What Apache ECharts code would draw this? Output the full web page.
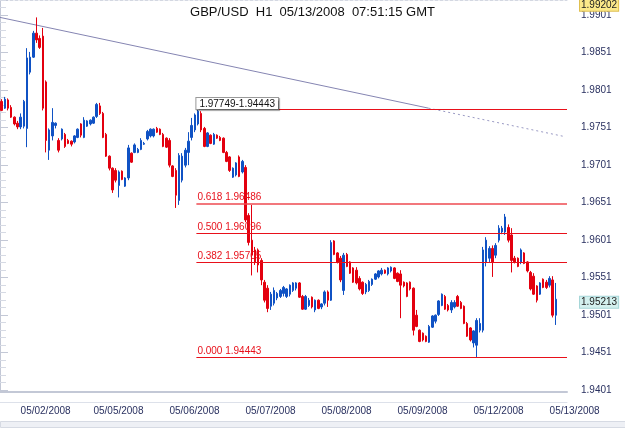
<!DOCTYPE html>
<html>
<head>
<meta charset="utf-8">
<title>GBP/USD H1</title>
<script src="https://cdn.jsdelivr.net/npm/echarts@6/dist/echarts.min.js"></script>
<style>
  html, body { margin: 0; padding: 0; background: #fff; }
  #main { width: 625px; height: 428px; }
</style>
</head>
<body>
<div id="main"></div>
<script>
var titleText = 'GBP/USD  H1  05/13/2008  07:51:15 GMT';

// trading days on the chart, first hour shown and number of hourly slots
var days = ['05/01/2008', '05/02/2008', '05/05/2008', '05/06/2008', '05/07/2008',
            '05/08/2008', '05/09/2008', '05/12/2008', '05/13/2008'];
var firstHour = [18, 0, 0, 0, 0, 0, 0, 0, 0];
var hourSlots = [6, 23, 24, 24, 24, 24, 24, 24, 6];

// hourly bars [open, close, low, high]
var bars = [
  [1.9785, 1.9773, 1.9772, 1.9788], [1.9776, 1.9788, 1.9775, 1.9791], [1.9787, 1.9776, 1.9773, 1.9789],
  [1.9777, 1.9764, 1.9763, 1.9780], [1.9764, 1.9755, 1.9753, 1.9765], [1.9756, 1.9751, 1.9748, 1.9759],
  [1.9751, 1.9764, 1.9748, 1.9769], [1.9752, 1.9785, 1.9749, 1.9787], [1.9749, 1.9843, 1.9724, 1.9856],
  [1.9824, 1.9844, 1.9821, 1.9851], [1.9844, 1.9876, 1.9843, 1.9879], [1.9876, 1.9867, 1.9863, 1.9897],
  [1.9869, 1.9857, 1.9855, 1.9873], [1.9872, 1.9776, 1.9773, 1.9883], [1.9811, 1.9733, 1.9717, 1.9813],
  [1.9720, 1.9747, 1.9707, 1.9749], [1.9739, 1.9757, 1.9733, 1.9776], [1.9753, 1.9756, 1.9749, 1.9757],
  [1.9733, 1.9720, 1.9717, 1.9736], [1.9735, 1.9748, 1.9733, 1.9749], [1.9741, 1.9725, 1.9723, 1.9743],
  [1.9733, 1.9729, 1.9728, 1.9735], [1.9732, 1.9728, 1.9725, 1.9733], [1.9731, 1.9739, 1.9729, 1.9740],
  [1.9737, 1.9748, 1.9736, 1.9749], [1.9755, 1.9740, 1.9737, 1.9756], [1.9737, 1.9760, 1.9736, 1.9764],
  [1.9752, 1.9759, 1.9751, 1.9760], [1.9755, 1.9760, 1.9753, 1.9761], [1.9756, 1.9764, 1.9755, 1.9765],
  [1.9765, 1.9781, 1.9763, 1.9783], [1.9779, 1.9769, 1.9767, 1.9783],
  // 05/05
  [1.9769, 1.9737, 1.9736, 1.9771], [1.9741, 1.9712, 1.9711, 1.9743], [1.9712, 1.9696, 1.9693, 1.9713],
  [1.9696, 1.9667, 1.9663, 1.9697], [1.9693, 1.9680, 1.9677, 1.9696], [1.9673, 1.9691, 1.9657, 1.9693],
  [1.9692, 1.9681, 1.9680, 1.9693], [1.9672, 1.9683, 1.9671, 1.9684], [1.9683, 1.9723, 1.9680, 1.9727],
  [1.9716, 1.9704, 1.9703, 1.9717], [1.9717, 1.9727, 1.9716, 1.9729], [1.9717, 1.9721, 1.9716, 1.9723],
  [1.9721, 1.9733, 1.9720, 1.9736], [1.9728, 1.9729, 1.9727, 1.9731], [1.9735, 1.9745, 1.9733, 1.9747],
  [1.9739, 1.9748, 1.9737, 1.9749], [1.9739, 1.9748, 1.9737, 1.9749], [1.9749, 1.9744, 1.9743, 1.9751],
  [1.9748, 1.9741, 1.9740, 1.9749], [1.9741, 1.9725, 1.9724, 1.9743], [1.9736, 1.9724, 1.9723, 1.9737],
  [1.9733, 1.9700, 1.9697, 1.9736], [1.9699, 1.9685, 1.9684, 1.9700], [1.9693, 1.9660, 1.9643, 1.9696],
  [1.9653, 1.9713, 1.9647, 1.9716], [1.9680, 1.9712, 1.9677, 1.9716], [1.9700, 1.9720, 1.9697, 1.9723],
  [1.9717, 1.9732, 1.9700, 1.9744], [1.9737, 1.9753, 1.9733, 1.9763], [1.9747, 1.9767, 1.9744, 1.9769],
  [1.9755, 1.9772, 1.9753, 1.97749],
  // 05/06
  [1.9769, 1.9747, 1.9744, 1.9772], [1.9749, 1.9725, 1.9724, 1.9751], [1.9725, 1.9743, 1.9724, 1.9744],
  [1.9740, 1.9729, 1.9728, 1.9741], [1.9728, 1.9741, 1.9727, 1.9743], [1.9740, 1.9736, 1.9735, 1.9741],
  [1.9737, 1.9733, 1.9732, 1.9739], [1.9736, 1.9717, 1.9716, 1.9737], [1.9717, 1.9705, 1.9704, 1.9719],
  [1.9711, 1.9693, 1.9691, 1.9712], [1.9684, 1.9696, 1.9683, 1.9697], [1.9687, 1.9703, 1.9685, 1.9704],
  [1.9711, 1.9685, 1.9684, 1.9713], [1.9691, 1.9705, 1.9689, 1.9707],
  // 05/07
  [1.9697, 1.9627, 1.9624, 1.9700], [1.9633, 1.9597, 1.9593, 1.9636], [1.9600, 1.9580, 1.9553, 1.9647],
  [1.9587, 1.9571, 1.9567, 1.9591], [1.9587, 1.9567, 1.9557, 1.9589], [1.9573, 1.9547, 1.9540, 1.9576],
  [1.9544, 1.9520, 1.9517, 1.9547], [1.9536, 1.9509, 1.9504, 1.9540], [1.9512, 1.9528, 1.9507, 1.9531],
  [1.9516, 1.9533, 1.9513, 1.9537], [1.9523, 1.9529, 1.9520, 1.9531], [1.9525, 1.9533, 1.9523, 1.9535],
  [1.9529, 1.9537, 1.9525, 1.9539], [1.9525, 1.9535, 1.9523, 1.9536], [1.9528, 1.9540, 1.9525, 1.9541],
  [1.9533, 1.9543, 1.9531, 1.9544], [1.9536, 1.9543, 1.9533, 1.9544], [1.9543, 1.9524, 1.9523, 1.9544],
  [1.9525, 1.9508, 1.9507, 1.9527], [1.9508, 1.9525, 1.9507, 1.9527], [1.9513, 1.9520, 1.9511, 1.9523],
  [1.9524, 1.9511, 1.9509, 1.9525], [1.9507, 1.9520, 1.9504, 1.9521], [1.9520, 1.9509, 1.9508, 1.9521],
  // 05/08
  [1.9511, 1.9515, 1.9508, 1.9516], [1.9516, 1.9531, 1.9513, 1.9533], [1.9531, 1.9520, 1.9511, 1.9533],
  [1.9520, 1.9597, 1.9519, 1.9600], [1.9599, 1.9581, 1.9580, 1.9600], [1.9583, 1.9571, 1.9569, 1.9584],
  [1.9576, 1.9547, 1.9544, 1.9579], [1.9533, 1.9580, 1.9527, 1.9583], [1.9581, 1.9565, 1.9564, 1.9583],
  [1.9571, 1.9556, 1.9555, 1.9572], [1.9563, 1.9544, 1.9543, 1.9564], [1.9560, 1.9543, 1.9541, 1.9564],
  [1.9549, 1.9535, 1.9533, 1.9552], [1.9544, 1.9529, 1.9527, 1.9545], [1.9531, 1.9541, 1.9528, 1.9543],
  [1.9533, 1.9545, 1.9531, 1.9547], [1.9541, 1.9548, 1.9539, 1.9549], [1.9548, 1.9555, 1.9547, 1.9556],
  [1.9551, 1.9559, 1.9549, 1.9560], [1.9555, 1.9560, 1.9553, 1.9563], [1.9560, 1.9556, 1.9555, 1.9561],
  [1.9555, 1.9563, 1.9553, 1.9564], [1.9559, 1.9564, 1.9557, 1.9565], [1.9563, 1.9549, 1.9548, 1.9564],
  // 05/09
  [1.9556, 1.9545, 1.9544, 1.9557], [1.9555, 1.9540, 1.9496, 1.9560], [1.9544, 1.9539, 1.9537, 1.9545],
  [1.9543, 1.9525, 1.9524, 1.9544], [1.9544, 1.9535, 1.9533, 1.9545], [1.9536, 1.9480, 1.9473, 1.9537],
  [1.9500, 1.9485, 1.9484, 1.9507], [1.9480, 1.9465, 1.9464, 1.9481], [1.9476, 1.9467, 1.9465, 1.9477],
  [1.9472, 1.9465, 1.9464, 1.9473], [1.9464, 1.9485, 1.9463, 1.9487], [1.9484, 1.9499, 1.9483, 1.9500],
  [1.9492, 1.9500, 1.9489, 1.9501], [1.9501, 1.9519, 1.9499, 1.9520], [1.9513, 1.9528, 1.9512, 1.9529],
  [1.9525, 1.9508, 1.9507, 1.9527], [1.9513, 1.9507, 1.9505, 1.9515], [1.9507, 1.9517, 1.9503, 1.9520],
  [1.9511, 1.9517, 1.9509, 1.9520], [1.9525, 1.9512, 1.9511, 1.9527], [1.9517, 1.9509, 1.9508, 1.9519],
  [1.9512, 1.9489, 1.9488, 1.9513], [1.9489, 1.9472, 1.9471, 1.9491], [1.9483, 1.9467, 1.9465, 1.9484],
  // 05/12
  [1.9463, 1.9479, 1.9457, 1.9480], [1.9460, 1.9493, 1.94443, 1.9496], [1.9480, 1.9489, 1.9477, 1.9496],
  [1.9480, 1.9587, 1.9477, 1.9591], [1.9571, 1.9600, 1.9565, 1.9604], [1.9576, 1.9589, 1.9571, 1.9592],
  [1.9589, 1.9571, 1.9551, 1.9593], [1.9580, 1.9593, 1.9576, 1.9596], [1.9600, 1.9616, 1.9597, 1.9620],
  [1.9611, 1.9616, 1.9608, 1.9619], [1.9611, 1.9631, 1.9607, 1.9635], [1.9617, 1.9600, 1.9597, 1.9621],
  [1.9607, 1.9573, 1.9557, 1.9616], [1.9576, 1.9571, 1.9569, 1.9579], [1.9576, 1.9565, 1.9564, 1.9577],
  [1.9571, 1.9587, 1.9568, 1.9589], [1.9583, 1.9569, 1.9568, 1.9584], [1.9571, 1.9559, 1.9557, 1.9572],
  [1.9557, 1.9535, 1.9533, 1.9559], [1.9552, 1.9528, 1.9527, 1.9556], [1.9539, 1.9520, 1.9517, 1.9540],
  [1.9528, 1.9543, 1.9527, 1.9544], [1.9548, 1.9537, 1.9536, 1.9549], [1.9544, 1.9537, 1.9535, 1.9547],
  // 05/13
  [1.9540, 1.9549, 1.9537, 1.9552], [1.9547, 1.9500, 1.9497, 1.9552], [1.9500, 1.95213, 1.9487, 1.9543]
];

// price axis
var yMin = 1.93976;
var yMax = 1.99202;
var yTicks = [1.940, 1.945, 1.950, 1.955, 1.960, 1.965, 1.970, 1.975, 1.980, 1.985, 1.990];
var yTickLabels = ['1.9401', '1.9451', '1.9501', '1.9551', '1.9601', '1.9651',
                   '1.9701', '1.9751', '1.9801', '1.9851', '1.9901'];
var lastPrice = 1.95213;

// trend line (x in hourly slots)
var trendX = [0, 135.3];
var trendY = [1.9897, 1.9776];
var trendExtX = [135.3, 178.4];
var trendExtY = [1.9776, 1.9738];

// fibonacci retracement 1.97749 -> 1.94443
var fibFrom = 62;
var fibTo = 179;
var fibValues = [1.97749, 1.96486, 1.96096, 1.95705, 1.94443];
var fibLabels = ['1.97749-1.94443', '0.618 1.96486', '0.500 1.96096', '0.382 1.95705', '0.000 1.94443'];

var categories = [];
days.forEach(function (d, k) {
  for (var h = 0; h < hourSlots[k]; h++) {
    var hh = firstHour[k] + h;
    categories.push(d + ' ' + (hh < 10 ? '0' : '') + hh);
  }
});
function hourOf(v) { return parseInt(v.slice(11), 10); }

var font = 'Liberation Sans, Arial, sans-serif';
var axisGray = '#c3c8d6';
var axisText = '#2a3160';
var fibRed = '#e8101a';

var chartDom = document.getElementById('main');
var myChart = echarts.init(chartDom);

var fibLines = fibValues.map(function (v, k) {
  var label = k === 0 ? {
    show: true, position: 'insideStartTop', distance: 0,
    formatter: fibLabels[k], color: '#111', fontSize: 10, fontFamily: font,
    backgroundColor: '#fff', borderColor: '#9a9a9a', borderWidth: 1, padding: [1, 3, 0, 3],
    shadowColor: 'rgba(0,0,0,0.35)', shadowOffsetX: 1, shadowOffsetY: 1, shadowBlur: 1
  } : {
    show: true, position: 'insideStartTop', distance: 1,
    formatter: fibLabels[k], color: fibRed, fontSize: 10, fontFamily: font
  };
  return [
    {
      coord: [fibFrom, v],
      label: label,
      lineStyle: { color: k === 1 ? '#ee4a50' : fibRed, width: k === 1 ? 1.6 : 1, type: 'solid' }
    },
    { coord: [fibTo, v] }
  ];
});

var option = {
  animation: false,
  backgroundColor: '#fff',
  title: {
    text: titleText,
    left: 'center',
    top: 1,
    textStyle: { fontSize: 13, fontWeight: 'normal', color: '#111', fontFamily: font }
  },
  grid: { left: -2, right: 58, top: 0, bottom: 36 },
  xAxis: [
    {
      type: 'category',
      data: categories,
      boundaryGap: true,
      axisLine: { lineStyle: { color: axisGray, width: 2 } },
      axisTick: {
        length: 10,
        interval: function (i, v) { return hourOf(v) === 0; },
        lineStyle: { color: axisGray }
      },
      axisLabel: {
        interval: function (i, v) { return hourOf(v) === 0; },
        formatter: function (v) { return v.slice(0, 10); },
        align: 'left',
        margin: 14,
        color: axisText,
        fontSize: 10,
        fontFamily: font
      },
      splitLine: { show: false }
    },
    {
      type: 'value',
      min: 0,
      max: 179,
      show: false
    },
    {
      type: 'category',
      data: categories,
      position: 'bottom',
      offset: 10,
      axisLine: { lineStyle: { color: '#dde1ea', width: 1 } },
      axisTick: {
        inside: true,
        length: 4,
        interval: function (i, v) { return hourOf(v) % 3 === 0; },
        lineStyle: { color: axisGray }
      },
      axisLabel: { show: false }
    },
    {
      type: 'category',
      data: categories,
      position: 'top',
      axisLine: { lineStyle: { color: '#d4d8e2', type: [3, 2], width: 1 } },
      axisTick: { show: false },
      axisLabel: { show: false }
    }
  ],
  yAxis: {
    type: 'value',
    position: 'right',
    min: yMin,
    max: yMax,
    splitNumber: 10,
    scale: true,
    axisLine: { show: true, lineStyle: { color: axisGray, width: 2 } },
    axisTick: { show: true, length: 8, lineStyle: { color: axisGray } },
    minorTick: { show: true, splitNumber: 5, length: 6, lineStyle: { color: '#d6dae4' } },
    splitLine: { show: false },
    axisLabel: {
      margin: 14,
      padding: [4, 0, 0, 0],
      color: axisText,
      fontSize: 10,
      fontFamily: font,
      formatter: function (v) {
        for (var k = 0; k < yTicks.length; k++) {
          if (Math.abs(v - yTicks[k]) < 1e-7) return yTickLabels[k];
        }
        return '';
      }
    }
  },
  series: [
    {
      name: 'trend',
      type: 'line',
      xAxisIndex: 1,
      z: 1,
      symbol: 'none',
      data: trendX.map(function (x, k) { return [x, trendY[k]]; }),
      lineStyle: { color: '#8585b2', width: 1 },
      markLine: {
        silent: true,
        symbol: ['none', 'none'],
        lineStyle: { color: fibRed, width: 1, type: 'solid' },
        data: fibLines
      }
    },
    {
      name: 'trend ext',
      type: 'line',
      xAxisIndex: 1,
      z: 1,
      symbol: 'none',
      data: trendExtX.map(function (x, k) { return [x, trendExtY[k]]; }),
      lineStyle: { color: '#9a9ac4', width: 1, type: [2, 3] }
    },
    {
      name: 'GBP/USD',
      type: 'candlestick',
      xAxisIndex: 0,
      z: 3,
      barWidth: 2,
      data: bars,
      itemStyle: {
        color: '#1052c4',
        color0: '#e3000f',
        borderColor: '#1052c4',
        borderColor0: '#e3000f',
        borderWidth: 1
      },
      markLine: {
        silent: true,
        symbol: ['none', 'none'],
        lineStyle: { color: 'transparent', width: 0 },
        data: [
          {
            yAxis: yMax,
            label: {
              show: true, position: 'end', distance: [13, 0], offset: [0, -10],
              formatter: String(yMax), color: '#222', fontSize: 10, fontFamily: font,
              backgroundColor: '#fbe98a', borderColor: '#e0c050', borderWidth: 1, padding: [1, 1, 0, 1]
            }
          },
          {
            yAxis: lastPrice,
            label: {
              show: true, position: 'end', distance: [13, 0], offset: [0, -13],
              formatter: String(lastPrice), color: '#222', fontSize: 10, fontFamily: font,
              backgroundColor: '#d4f0ee', borderColor: '#a6d6d8', borderWidth: 1, padding: [1, 1, 0, 1]
            }
          }
        ]
      }
    }
  ],
  graphic: [
    {
      type: 'rect',
      left: 0,
      bottom: 0,
      shape: { width: 625, height: 6 },
      style: { fill: '#eef0f5', stroke: '#d6dae3' },
      silent: true
    }
  ]
};

myChart.setOption(option);
</script>
</body>
</html>
